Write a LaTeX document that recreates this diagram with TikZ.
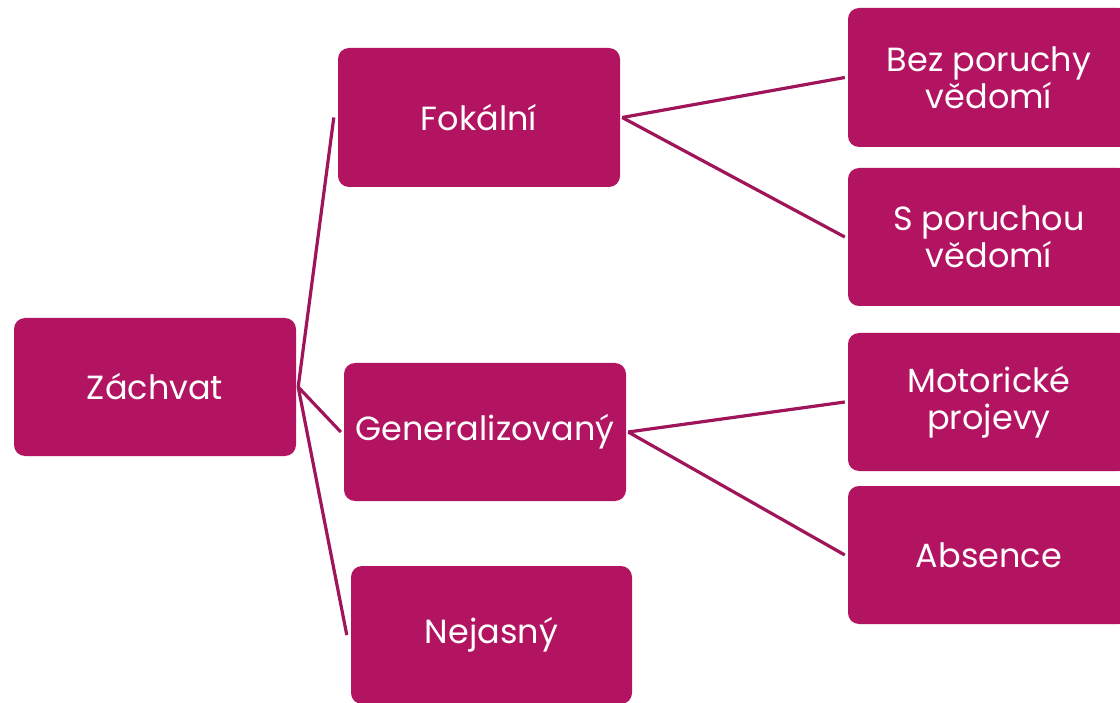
\documentclass[tikz,border=0pt]{standalone}
\usepackage{fontspec}
\setmainfont{Poppins}
\definecolor{mag}{RGB}{178,20,98}
\definecolor{linec}{RGB}{160,20,90}
\begin{document}
\begin{tikzpicture}[x=1pt,y=-1pt,
  box/.style={fill=mag, draw=none, rounded corners=11pt, text=white, align=center,
    font=\fontsize{33.5}{37}\selectfont, inner sep=0pt},
  conn/.style={draw=linec, line width=3.2pt}]
\useasboundingbox (0,0) rectangle (1120,703);
\fill[white] (0,0) rectangle (1120,703);
\node[box, minimum width=282pt, minimum height=138pt] (zach) at (155,387) {Záchvat};
\node[box, minimum width=282pt, minimum height=139pt] (fok) at (479,117.5) {Fokální};
\node[box, minimum width=282pt, minimum height=138pt] (gen) at (485,432) {Generalizovaný};
\node[box, minimum width=281pt, minimum height=138pt] (nej) at (491.5,635) {Nejasný};
\node[box, minimum width=282pt, minimum height=139pt] (bez) at (989,77.5) {Bez poruchy\\vědomí};
\node[box, minimum width=282pt, minimum height=138pt] (spor) at (989,237) {S poruchou\\vědomí};
\node[box, minimum width=282pt, minimum height=138pt] (mot) at (989,402) {Motorické\\projevy};
\node[box, minimum width=282pt, minimum height=138pt] (abs) at (989,555) {Absence};
\coordinate (zr) at ([xshift=2pt]zach.east);
\draw[conn] (zr) -- ([xshift=-4pt]fok.west);
\draw[conn] (zr) -- ([xshift=-3pt]gen.west);
\draw[conn] (zr) -- ([xshift=-4pt]nej.west);
\coordinate (fr) at ([xshift=2pt]fok.east);
\draw[conn] (fr) -- ([xshift=-3pt]bez.west);
\draw[conn] (fr) -- ([xshift=-3pt]spor.west);
\coordinate (gr) at ([xshift=2pt]gen.east);
\draw[conn] (gr) -- ([xshift=-3pt]mot.west);
\draw[conn] (gr) -- ([xshift=-3pt]abs.west);
\end{tikzpicture}
\end{document}
